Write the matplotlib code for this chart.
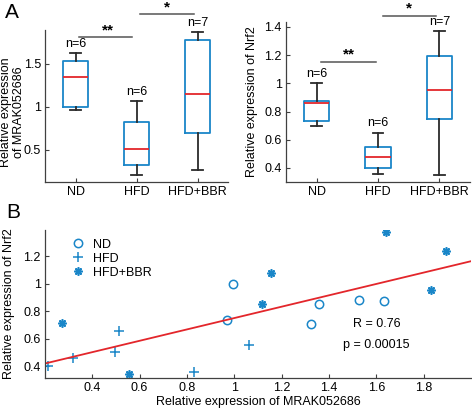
import numpy as np
import matplotlib
matplotlib.use("Agg")
import matplotlib.pyplot as plt

plt.rcParams['font.family'] = ['Liberation Sans', 'DejaVu Sans']
plt.rcParams['font.size'] = 9

# ---------------- data ----------------
groups = ["ND", "HFD", "HFD+BBR"]
group_n = ["n=6", "n=6", "n=7"]

# MRAK052686 box statistics (whislo, q1, med, q3, whishi)
mrak_whislo = [0.97, 0.21, 0.27]
mrak_q1 = [1.00, 0.32, 0.70]
mrak_med = [1.35, 0.51, 1.15]
mrak_q3 = [1.53, 0.83, 1.78]
mrak_whishi = [1.63, 1.07, 1.87]

# Nrf2 box statistics
nrf2_whislo = [0.70, 0.36, 0.35]
nrf2_q1 = [0.73, 0.40, 0.745]
nrf2_med = [0.86, 0.48, 0.95]
nrf2_q3 = [0.875, 0.55, 1.195]
nrf2_whishi = [1.00, 0.65, 1.37]

# scatter data (x = MRAK052686, y = Nrf2)
nd_x = [0.996, 0.968, 1.357, 1.325, 1.525, 1.633]
nd_y = [1.000, 0.732, 0.853, 0.705, 0.880, 0.875]
hfd_x = [0.211, 0.319, 0.512, 0.494, 0.828, 1.063]
hfd_y = [0.400, 0.456, 0.655, 0.505, 0.359, 0.553]
bbr_x = [0.270, 0.557, 1.153, 1.115, 1.640, 1.893, 1.830]
bbr_y = [0.710, 0.345, 1.079, 0.851, 1.372, 1.239, 0.953]

stat_text = ["R = 0.76", "p = 0.00015"]

BLUE = '#1a86c8'
RED = '#e3262b'
DARK = '#2b2b2b'
GRAY = '#555555'

W, H = 472, 409
fig = plt.figure(figsize=(W / 100, H / 100), dpi=100)


def px_axes(left, top, right, bottom):
    return fig.add_axes([left / W, (H - bottom) / H, (right - left) / W, (bottom - top) / H])


def style(ax):
    ax.spines['top'].set_visible(False)
    ax.spines['right'].set_visible(False)
    for s in ('left', 'bottom'):
        ax.spines[s].set_color('#404040')
        ax.spines[s].set_linewidth(0.9)
    ax.tick_params(direction='in', length=3, width=0.8, color='#404040', labelsize=9, pad=3)


def boxpanel(ax, whislo, q1, med, q3, whishi):
    stats = []
    for i in range(len(groups)):
        stats.append(dict(whislo=whislo[i], q1=q1[i], med=med[i], q3=q3[i], whishi=whishi[i], fliers=[]))
    ax.bxp(stats, positions=[1, 2, 3], widths=0.41, capwidths=0.17, showfliers=False,
           patch_artist=False,
           boxprops=dict(color=BLUE, linewidth=1.3),
           medianprops=dict(color=RED, linewidth=1.3),
           whiskerprops=dict(color=DARK, linewidth=1.3),
           capprops=dict(color=DARK, linewidth=1.3))
    ax.set_xlim(0.5, 3.5)
    ax.set_xticks([1, 2, 3])
    ax.set_xticklabels(groups)
    for i in range(len(groups)):
        ax.text(i + 1, whishi[i] + 0.02 * (ax.get_ylim()[1] - ax.get_ylim()[0]), group_n[i],
                ha='center', va='bottom', fontsize=9, clip_on=False)


# ---------------- Panel A left ----------------
axA1 = px_axes(45, 30, 228, 182)
style(axA1)
axA1.set_ylim(0.128, 1.895)
boxpanel(axA1, mrak_whislo, mrak_q1, mrak_med, mrak_q3, mrak_whishi)
axA1.set_yticks([0.5, 1.0, 1.5])
axA1.set_yticklabels(['0.5', '1', '1.5'])
axA1.set_ylabel("Relative expression\nof MRAK052686", fontsize=9, linespacing=1.1)
axA1.yaxis.set_label_coords(-0.11, 0.46)
axA1.plot([1.05, 1.93], [1.81, 1.81], color=GRAY, lw=1.1, clip_on=False)
axA1.text(1.54, 1.81, "**", ha='center', va='bottom', fontsize=11, fontweight='bold', clip_on=False)
axA1.plot([2.05, 2.95], [2.08, 2.08], color=GRAY, lw=1.1, clip_on=False)
axA1.text(2.5, 2.08, "*", ha='center', va='bottom', fontsize=11, fontweight='bold', clip_on=False)

# ---------------- Panel A right ----------------
axA2 = px_axes(286, 22, 470, 182)
style(axA2)
axA2.set_ylim(0.30, 1.435)
boxpanel(axA2, nrf2_whislo, nrf2_q1, nrf2_med, nrf2_q3, nrf2_whishi)
axA2.set_yticks([0.4, 0.6, 0.8, 1.0, 1.2, 1.4])
axA2.set_yticklabels(['0.4', '0.6', '0.8', '1', '1.2', '1.4'])
axA2.set_ylabel("Relative expression of Nrf2", fontsize=9)
axA2.yaxis.set_label_coords(-0.15, 0.5)
axA2.plot([1.07, 1.97], [1.152, 1.152], color=GRAY, lw=1.1, clip_on=False)
axA2.text(1.52, 1.152, "**", ha='center', va='bottom', fontsize=11, fontweight='bold', clip_on=False)
axA2.plot([2.08, 2.95], [1.478, 1.478], color=GRAY, lw=1.1, clip_on=False)
axA2.text(2.5, 1.478, "*", ha='center', va='bottom', fontsize=11, fontweight='bold', clip_on=False)

# ---------------- Panel B ----------------
axB = px_axes(45, 230, 471, 378)
style(axB)
axB.set_xlim(0.2, 2.0)
axB.set_ylim(0.313, 1.39)
axB.plot(nd_x, nd_y, linestyle='none', marker='o', markersize=6, markerfacecolor='none',
         markeredgecolor=BLUE, markeredgewidth=1.1, label='ND')
axB.plot(hfd_x, hfd_y, linestyle='none', marker='+', markersize=7, color=BLUE,
         markeredgewidth=1.1, label='HFD')
axB.plot(bbr_x, bbr_y, linestyle='none', marker=(8, 2, 0), markersize=6, color=BLUE,
         markeredgewidth=1.2, label='HFD+BBR')
all_x = np.array(nd_x + hfd_x + bbr_x)
all_y = np.array(nd_y + hfd_y + bbr_y)
slope, intercept = np.polyfit(all_x, all_y, 1)
xl = np.array(axB.get_xlim())
axB.plot(xl, slope * xl + intercept, color=RED, lw=1.3)
axB.set_xticks([0.4, 0.6, 0.8, 1.0, 1.2, 1.4, 1.6, 1.8])
axB.set_xticklabels(['0.4', '0.6', '0.8', '1', '1.2', '1.4', '1.6', '1.8'])
axB.set_yticks([0.4, 0.6, 0.8, 1.0, 1.2])
axB.set_yticklabels(['0.4', '0.6', '0.8', '1', '1.2'])
axB.set_xlabel("Relative expression of MRAK052686", fontsize=9, labelpad=1)
axB.set_ylabel("Relative expression of Nrf2", fontsize=9)
axB.yaxis.set_label_coords(-0.07, 0.5)
axB.text(1.60, 0.703, stat_text[0], ha='center', va='center', fontsize=9)
axB.text(1.60, 0.553, stat_text[1], ha='center', va='center', fontsize=9)
axB.legend(loc='upper left', bbox_to_anchor=(0.04, 1.0), frameon=False, fontsize=9,
           handlelength=1.2, handletextpad=0.6, labelspacing=0.15, borderpad=0.2)

fig.text(5 / W, 1 - 13 / H, "A", fontsize=15, va='center', ha='left')
fig.text(6 / W, 1 - 213 / H, "B", fontsize=15, va='center', ha='left')

fig.savefig("out.png", dpi=100)
